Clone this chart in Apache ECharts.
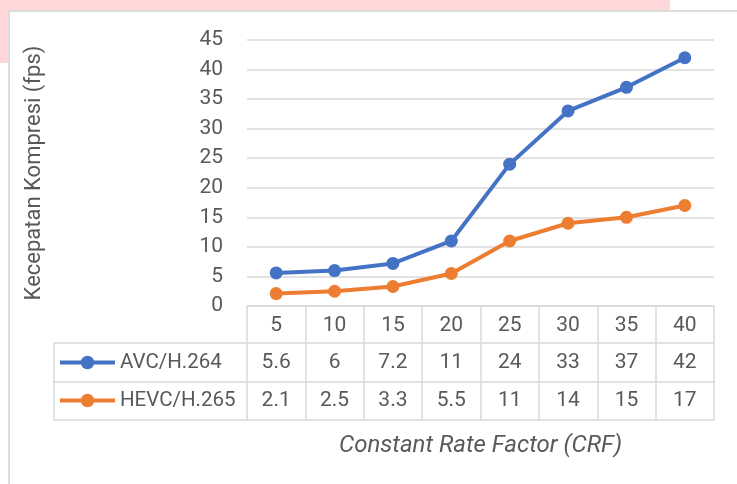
<!DOCTYPE html>
<html>
<head>
<meta charset="utf-8">
<script src="https://cdn.jsdelivr.net/npm/echarts@6/dist/echarts.min.js"></script>
<style>
  html, body { margin: 0; padding: 0; background: #fff; }
  .pink-top { position: absolute; left: 0; top: 0; width: 670px; height: 10px; background: #ffd7d9; }
  .pink-left { position: absolute; left: 0; top: 0; width: 8px; height: 63px; background: #ffd7d9; }
  .frame { position: absolute; left: 8px; top: 10px; right: 0; bottom: 0;
           border-top: 2px solid #dcdcdc; border-left: 2px solid #dcdcdc; background: #fff; }
  #chart { position: absolute; left: 0; top: 0; width: 737px; height: 484px; }
</style>
</head>
<body>
<div class="pink-top"></div>
<div class="pink-left"></div>
<div class="frame"></div>
<div id="chart"></div>
<script>
const crf = ['5', '10', '15', '20', '25', '30', '35', '40']
const avc = [5.6, 6, 7.2, 11, 24, 33, 37, 42]
const hevc = [2.1, 2.5, 3.3, 5.5, 11, 14, 15, 17]
const yMin = 0
const yMax = 45
const yStep = 5

const font = 'Roboto, "Liberation Sans", sans-serif'
const textColor = '#595959'
const lineColor = '#d9d9d9'
const blue = '#4472c4'
const orange = '#ed7d31'

// extra category axes that print the data table rows
const tableRow = (values, offset) => ({
  type: 'category',
  gridIndex: 0,
  position: 'bottom',
  offset: offset,
  data: values.map(String),
  axisLine: { show: false },
  axisTick: { show: false },
  splitLine: { show: false },
  axisLabel: { interval: 0, margin: 9, color: textColor, fontSize: 21, fontFamily: font }
})

const chart = echarts.init(document.getElementById('chart'), null, { renderer: 'canvas' })

const option = {
  backgroundColor: 'transparent',
  animation: false,
  textStyle: { fontFamily: font },
  legend: {
    orient: 'vertical',
    left: 58,
    top: 352,
    padding: 0,
    itemWidth: 55,
    itemHeight: 17,
    itemGap: 17,
    lineStyle: { width: 4 },
    textStyle: { color: textColor, fontSize: 20.5, lineHeight: 21, fontFamily: font },
    data: ['AVC/H.264', 'HEVC/H.265']
  },
  grid: [
    { left: 247, right: 23, top: 40, bottom: 178 },
    { left: 54, right: 23, top: 343, bottom: 64 }
  ],
  xAxis: [
    {
      type: 'category',
      gridIndex: 0,
      boundaryGap: true,
      data: crf,
      axisLine: { lineStyle: { color: lineColor, width: 1.5 } },
      axisTick: { show: true, interval: 0, length: 114, lineStyle: { color: lineColor, width: 1.5 } },
      axisLabel: { interval: 0, margin: 9, color: textColor, fontSize: 21, fontFamily: font },
      name: 'Constant Rate Factor (CRF)',
      nameLocation: 'middle',
      nameGap: 128,
      nameTextStyle: { color: textColor, fontSize: 24, fontStyle: 'italic', fontFamily: font }
    },
    tableRow(avc, 37),
    tableRow(hevc, 75),
    { type: 'value', gridIndex: 1, show: false, min: 0, max: 1 }
  ],
  yAxis: [
    {
      type: 'value',
      gridIndex: 0,
      min: yMin,
      max: yMax,
      interval: yStep,
      axisLine: { show: false },
      axisTick: { show: false },
      splitLine: { lineStyle: { color: lineColor, width: 1.5 } },
      axisLabel: { margin: 24, color: textColor, fontSize: 21, fontFamily: font },
      name: 'Kecepatan Kompresi (fps)',
      nameLocation: 'middle',
      nameGap: 202,
      nameTextStyle: { color: textColor, fontSize: 22, fontFamily: font }
    },
    {
      type: 'value',
      gridIndex: 1,
      min: 0,
      max: 2,
      interval: 1,
      axisLine: { show: true, lineStyle: { color: lineColor, width: 1.5 } },
      axisTick: { show: false },
      axisLabel: { show: false },
      splitLine: { show: true, lineStyle: { color: lineColor, width: 1.5 } }
    }
  ],
  series: [
    {
      name: 'AVC/H.264',
      type: 'line',
      xAxisIndex: 0,
      yAxisIndex: 0,
      data: avc,
      symbol: 'circle',
      symbolSize: 13,
      color: blue,
      lineStyle: { width: 4, color: blue },
      itemStyle: { color: blue }
    },
    {
      name: 'HEVC/H.265',
      type: 'line',
      xAxisIndex: 0,
      yAxisIndex: 0,
      data: hevc,
      symbol: 'circle',
      symbolSize: 13,
      color: orange,
      lineStyle: { width: 4, color: orange },
      itemStyle: { color: orange }
    }
  ]
}

chart.setOption(option)
</script>
</body>
</html>
